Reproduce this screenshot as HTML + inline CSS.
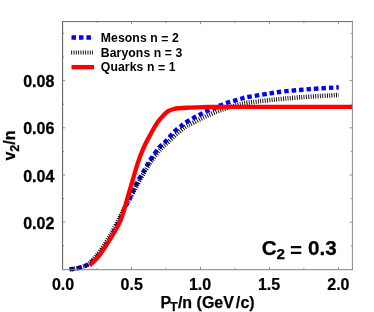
<!DOCTYPE html>
<html><head><meta charset="utf-8"><style>
html,body{margin:0;padding:0;background:#fff;}
body{width:374px;height:312px;overflow:hidden;}
svg{display:block;}
text{font-family:"Liberation Sans",sans-serif;font-weight:bold;fill:#000;}
</style></head><body>
<svg width="374" height="312" viewBox="0 0 374 312">
<rect width="374" height="312" fill="#fff"/>
<g fill="none">
<path d="M69.70 269.20 C70.75 269.10 73.95 268.97 76.00 268.60 C78.05 268.23 80.00 267.68 82.00 267.00 C84.00 266.32 85.68 265.95 88.00 264.50 C90.32 263.05 93.35 260.93 95.90 258.30 C98.45 255.67 100.73 252.37 103.30 248.70 C105.87 245.03 108.57 241.08 111.30 236.30 C114.03 231.52 117.35 224.90 119.70 220.00 C122.05 215.10 123.78 210.42 125.40 206.90 C127.02 203.38 127.67 202.52 129.40 198.90 C131.13 195.28 133.30 190.02 135.80 185.20 C138.30 180.38 141.83 174.45 144.40 170.00 C146.97 165.55 148.68 162.30 151.20 158.50 C153.72 154.70 157.18 149.95 159.50 147.20 C161.82 144.45 163.23 143.92 165.10 142.00 C166.97 140.08 168.88 137.70 170.70 135.70 C172.52 133.70 174.25 131.63 176.00 130.00 C177.75 128.37 179.70 127.07 181.20 125.90 C182.70 124.73 183.00 124.30 185.00 123.00 C187.00 121.70 190.77 119.47 193.20 118.10 C195.63 116.73 197.47 115.90 199.60 114.80 C201.73 113.70 203.72 112.55 206.00 111.50 C208.28 110.45 211.02 109.48 213.30 108.50 C215.58 107.52 217.43 106.53 219.70 105.60 C221.97 104.67 224.50 103.68 226.90 102.90 C229.30 102.12 231.70 101.60 234.10 100.90 C236.50 100.20 238.97 99.35 241.30 98.70 C243.63 98.05 243.32 97.88 248.10 97.00 C252.88 96.12 264.02 94.33 270.00 93.40 C275.98 92.47 277.33 92.12 284.00 91.40 C290.67 90.68 300.88 89.78 310.00 89.10 C319.12 88.42 333.92 87.60 338.70 87.30" stroke="#0000ff" stroke-width="4.4" stroke-dasharray="4.5 2.95"/>
<path d="M69.70 269.20 C70.75 269.10 73.95 268.97 76.00 268.60 C78.05 268.23 80.00 267.72 82.00 267.00 C84.00 266.28 85.85 265.88 88.00 264.30 C90.15 262.72 92.53 260.23 94.90 257.50 C97.28 254.77 99.70 251.57 102.25 247.90 C104.80 244.23 107.48 240.23 110.20 235.50 C112.92 230.77 116.13 224.30 118.60 219.50 C121.07 214.70 123.17 210.07 125.00 206.70 C126.83 203.33 127.67 202.75 129.60 199.30 C131.53 195.85 134.02 190.72 136.60 186.00 C139.18 181.28 142.50 175.33 145.10 171.00 C147.70 166.67 149.58 163.67 152.20 160.00 C154.82 156.33 158.12 152.00 160.80 149.00 C163.48 146.00 165.77 144.42 168.30 142.00 C170.83 139.58 173.22 137.00 176.00 134.50 C178.78 132.00 182.13 128.95 185.00 127.00 C187.87 125.05 189.70 124.60 193.20 122.80 C196.70 121.00 201.20 118.40 206.00 116.20 C210.80 114.00 216.65 111.50 222.00 109.60 C227.35 107.70 233.80 105.93 238.10 104.80 C242.40 103.67 242.48 103.58 247.80 102.80 C253.12 102.02 261.30 101.02 270.00 100.10 C278.70 99.18 288.55 98.15 300.00 97.30 C311.45 96.45 332.25 95.38 338.70 95.00" stroke="#000" stroke-width="4.5" stroke-dasharray="0.9 1.4"/>
<path d="M89.50 265.50 C90.85 264.17 95.07 260.50 97.60 257.50 C100.13 254.50 102.20 251.25 104.70 247.50 C107.20 243.75 109.93 239.58 112.60 235.00 C115.27 230.42 118.13 226.50 120.70 220.00 C123.27 213.50 125.52 204.33 128.00 196.00 C130.48 187.67 133.68 176.33 135.60 170.00 C137.52 163.67 137.95 162.17 139.50 158.00 C141.05 153.83 143.03 149.00 144.90 145.00 C146.77 141.00 148.67 137.68 150.70 134.00 C152.73 130.32 154.88 126.10 157.10 122.90 C159.32 119.70 162.02 116.83 164.00 114.80 C165.98 112.77 167.33 111.67 169.00 110.70 C170.67 109.73 172.25 109.37 174.00 108.95 C175.75 108.53 177.38 108.40 179.50 108.20 C181.62 108.00 182.62 107.93 186.70 107.75 C190.78 107.57 196.78 107.24 204.00 107.10 C211.22 106.96 205.30 106.93 230.00 106.90 C254.70 106.87 331.83 106.90 352.20 106.90" stroke="#ff0000" stroke-width="4.3" stroke-linejoin="round"/>
</g>
<g stroke-width="1" stroke-linecap="square">
<line x1="62.6" y1="21.6" x2="62.6" y2="269.4" stroke="#555"/>
<line x1="62.6" y1="21.6" x2="352.2" y2="21.6" stroke="#686868"/>
<line x1="352.4" y1="21.6" x2="352.4" y2="269.4" stroke="#7a7a7a" stroke-width="0.9"/>
<line x1="62.6" y1="269.7" x2="352.2" y2="269.7" stroke="#808080"/>
</g>
<g stroke="#777" stroke-width="0.8"><line x1="62.6" y1="245.8" x2="64.0" y2="245.8"/><line x1="352.2" y1="245.8" x2="350.8" y2="245.8"/><line x1="62.6" y1="222.2" x2="65.2" y2="222.2"/><line x1="352.2" y1="222.2" x2="349.6" y2="222.2"/><line x1="62.6" y1="198.6" x2="64.0" y2="198.6"/><line x1="352.2" y1="198.6" x2="350.8" y2="198.6"/><line x1="62.6" y1="175.0" x2="65.2" y2="175.0"/><line x1="352.2" y1="175.0" x2="349.6" y2="175.0"/><line x1="62.6" y1="151.4" x2="64.0" y2="151.4"/><line x1="352.2" y1="151.4" x2="350.8" y2="151.4"/><line x1="62.6" y1="127.8" x2="65.2" y2="127.8"/><line x1="352.2" y1="127.8" x2="349.6" y2="127.8"/><line x1="62.6" y1="104.2" x2="64.0" y2="104.2"/><line x1="352.2" y1="104.2" x2="350.8" y2="104.2"/><line x1="62.6" y1="80.6" x2="65.2" y2="80.6"/><line x1="352.2" y1="80.6" x2="349.6" y2="80.6"/><line x1="62.6" y1="57.0" x2="64.0" y2="57.0"/><line x1="352.2" y1="57.0" x2="350.8" y2="57.0"/><line x1="62.6" y1="33.4" x2="64.0" y2="33.4"/><line x1="352.2" y1="33.4" x2="350.8" y2="33.4"/><line x1="97.1" y1="269.4" x2="97.1" y2="268.0"/><line x1="97.1" y1="21.6" x2="97.1" y2="23.0"/><line x1="131.5" y1="269.4" x2="131.5" y2="266.8"/><line x1="131.5" y1="21.6" x2="131.5" y2="24.2"/><line x1="166.0" y1="269.4" x2="166.0" y2="268.0"/><line x1="166.0" y1="21.6" x2="166.0" y2="23.0"/><line x1="200.5" y1="269.4" x2="200.5" y2="266.8"/><line x1="200.5" y1="21.6" x2="200.5" y2="24.2"/><line x1="234.9" y1="269.4" x2="234.9" y2="268.0"/><line x1="234.9" y1="21.6" x2="234.9" y2="23.0"/><line x1="269.4" y1="269.4" x2="269.4" y2="266.8"/><line x1="269.4" y1="21.6" x2="269.4" y2="24.2"/><line x1="303.9" y1="269.4" x2="303.9" y2="268.0"/><line x1="303.9" y1="21.6" x2="303.9" y2="23.0"/><line x1="338.4" y1="269.4" x2="338.4" y2="266.8"/><line x1="338.4" y1="21.6" x2="338.4" y2="24.2"/></g>
<!-- legend -->
<line x1="71.5" y1="37.4" x2="91.2" y2="37.4" stroke="#0000ff" stroke-width="4.5" stroke-dasharray="4.5 2.95"/>
<line x1="71.2" y1="52.5" x2="93" y2="52.5" stroke="#000" stroke-width="4.2" stroke-dasharray="0.9 1.43"/>
<line x1="71.5" y1="67.15" x2="94" y2="67.15" stroke="#ff0000" stroke-width="4.4"/>
<g style="filter:grayscale(1)">
<g font-size="12.2" letter-spacing="0.1">
<text x="100.8" y="41.9">Mesons n <tspan dy="0.6">=</tspan><tspan dy="-0.6"> 2</tspan></text>
<text x="100.8" y="56.6">Baryons n <tspan dy="0.6">=</tspan><tspan dy="-0.6"> 3</tspan></text>
<text x="100.8" y="71.2">Quarks n <tspan dy="0.6">=</tspan><tspan dy="-0.6"> 1</tspan></text>
</g>
<g font-size="16" text-anchor="end" stroke="#000" stroke-width="0.3">
<text x="54.3" y="87.0">0.08</text>
<text x="54.3" y="134.4">0.06</text>
<text x="54.3" y="181.6">0.04</text>
<text x="54.3" y="228.8">0.02</text>
</g>
<g font-size="16" text-anchor="middle" stroke="#000" stroke-width="0.22">
<text x="63" y="290.4">0.0</text>
<text x="131.7" y="290.4">0.5</text>
<text x="200" y="290.4">1.0</text>
<text x="269" y="290.4">1.5</text>
<text x="338.4" y="290.4">2.0</text>
</g>
<text x="160.5" y="307.5" font-size="16" stroke="#000" stroke-width="0.25">P<tspan font-size="12.5" dy="3.5" dx="-1.2">T</tspan><tspan dy="-3.5" dx="0.3">/n (GeV</tspan><tspan dx="1.8">/</tspan><tspan dx="0.25">c)</tspan></text>
<text transform="translate(15.3,160.6) rotate(-90)" font-size="16" stroke="#000" stroke-width="0.25">v<tspan font-size="12.5" dy="3.7">2</tspan><tspan dy="-3.7">/n</tspan></text>
<g font-size="20.7" stroke="#000" stroke-width="0.25"><text x="261.65" y="254.9">C</text><text x="276.5" y="259.3" font-size="15.2">2</text><text x="290.1" y="256.7" stroke="none">=</text><text x="307.9" y="254.9">0.3</text></g>
</g>
</svg>
</body></html>
